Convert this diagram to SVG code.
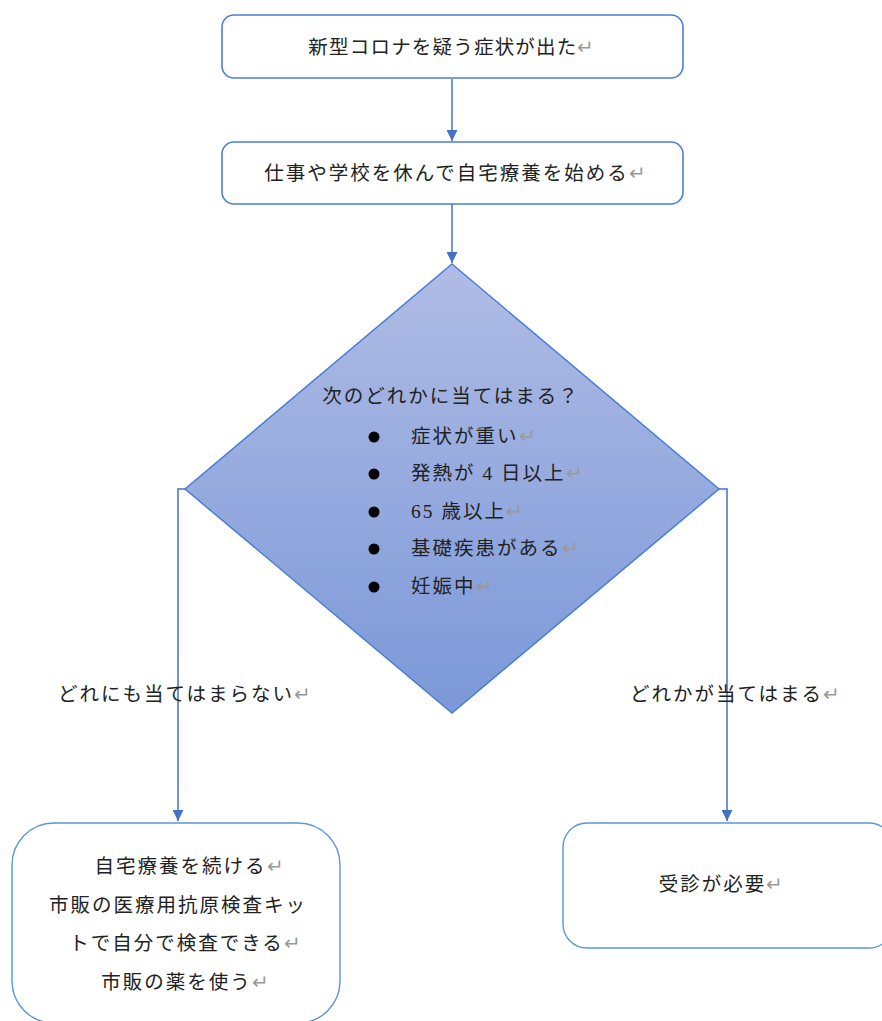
<svg xmlns="http://www.w3.org/2000/svg" width="882" height="1021" viewBox="0 0 882 1021">
<style>
.box{fill:#ffffff;stroke:#4a7dd4;stroke-width:1.6}
.box2{fill:#ffffff;stroke:#5b95dc;stroke-width:1.4}
.t{font-family:"Liberation Serif","Noto Sans CJK JP",serif;font-size:19.5px;fill:#222;letter-spacing:2px}
.m{fill:#999}
.c{fill:none;stroke:#4472c4;stroke-width:1.5}
.dot{fill:#000}
</style>
<defs>
<linearGradient id="g" x1="0" y1="0" x2="0" y2="1">
<stop offset="0" stop-color="#b0bce5"/>
<stop offset="1" stop-color="#7b98d8"/>
</linearGradient>
<marker id="ah" viewBox="0 0 10 10" refX="10" refY="5" markerWidth="11" markerHeight="11" markerUnits="userSpaceOnUse" orient="auto">
<path d="M0,0 L10,5 L0,10 z" fill="#4472c4"/>
</marker>
</defs>
<g id="connectors">
<line class="c" x1="452" y1="79" x2="452" y2="141" marker-end="url(#ah)"/>
<line class="c" x1="452" y1="204" x2="452" y2="263" marker-end="url(#ah)"/>
<polyline class="c" points="185,489 178,489 178,821" marker-end="url(#ah)"/>
<polyline class="c" points="719,489 727,489 727,821" marker-end="url(#ah)"/>
</g>
<g id="n1">
<rect class="box" x="222" y="15" width="461" height="63" rx="12"/>
<text class="t" x="452" y="54" text-anchor="middle" style="letter-spacing:1.2px">新型コロナを疑う症状が出た<tspan class="m">↵</tspan></text>
</g>
<g id="n2">
<rect class="box" x="222" y="142" width="461" height="62" rx="12"/>
<text class="t" x="456" y="180" text-anchor="middle">仕事や学校を休んで自宅療養を始める<tspan class="m">↵</tspan></text>
</g>
<g id="n3">
<polygon points="452,264 719,489 452,713 185,489" fill="url(#g)" stroke="#4a7dd4" stroke-width="1.5"/>
<text class="t" x="451" y="403" text-anchor="middle">次のどれかに当てはまる？</text>
<circle class="dot" cx="374" cy="437" r="5.5"/>
<circle class="dot" cx="374" cy="474" r="5.5"/>
<circle class="dot" cx="374" cy="512" r="5.5"/>
<circle class="dot" cx="374" cy="549" r="5.5"/>
<circle class="dot" cx="374" cy="587" r="5.5"/>
<text class="t" x="411" y="443">症状が重い<tspan class="m">↵</tspan></text>
<text class="t" x="411" y="480">発熱が 4 日以上<tspan class="m">↵</tspan></text>
<text class="t" x="411" y="518">65 歳以上<tspan class="m">↵</tspan></text>
<text class="t" x="411" y="555">基礎疾患がある<tspan class="m">↵</tspan></text>
<text class="t" x="411" y="593">妊娠中<tspan class="m">↵</tspan></text>
</g>
<g id="label-no">
<text class="t" x="58" y="701">どれにも当てはまらない<tspan class="m">↵</tspan></text>
</g>
<g id="label-yes">
<text class="t" x="630" y="701">どれかが当てはまる<tspan class="m">↵</tspan></text>
</g>
<g id="n4">
<rect class="box2" x="12" y="823" width="328" height="200" rx="42"/>
<text class="t" x="190" y="873" text-anchor="middle">自宅療養を続ける<tspan class="m">↵</tspan></text>
<text class="t" x="178" y="912" text-anchor="middle">市販の医療用抗原検査キッ</text>
<text class="t" x="186" y="950" text-anchor="middle">トで自分で検査できる<tspan class="m">↵</tspan></text>
<text class="t" x="186" y="989" text-anchor="middle">市販の薬を使う<tspan class="m">↵</tspan></text>
</g>
<g id="n5">
<rect class="box2" x="563" y="823" width="330" height="125" rx="24"/>
<text class="t" x="722" y="891" text-anchor="middle">受診が必要<tspan class="m">↵</tspan></text>
</g>
</svg>
